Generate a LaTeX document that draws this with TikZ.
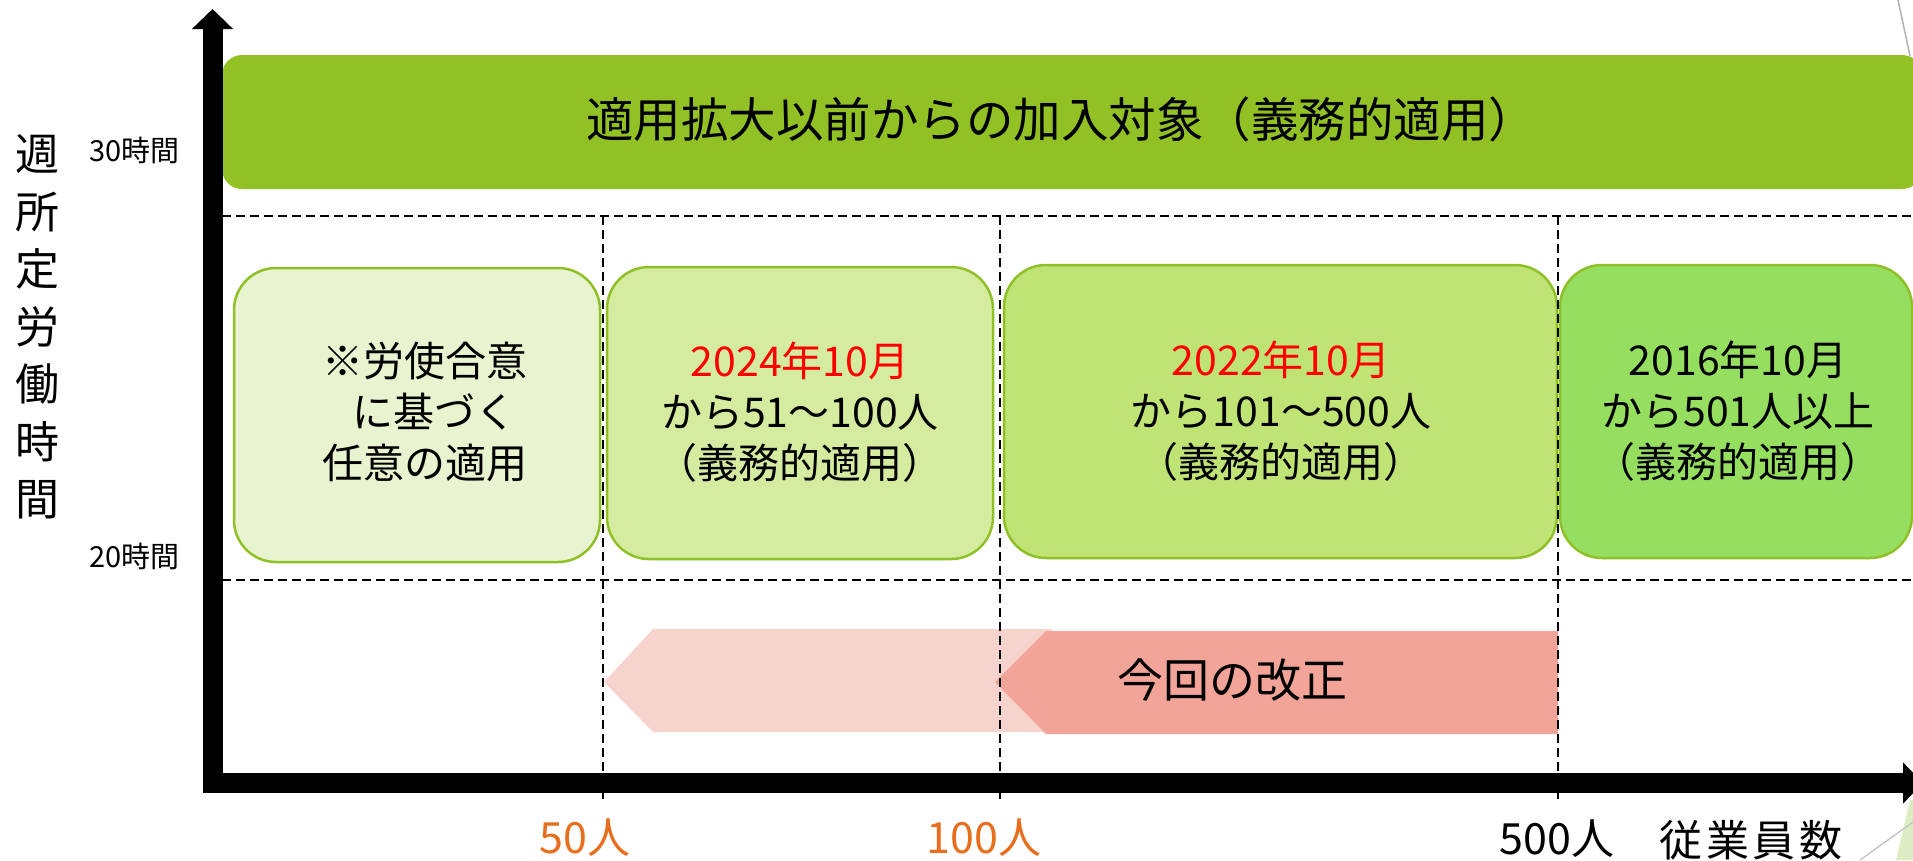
\documentclass[tikz,border=0pt]{standalone}
\usepackage{fontspec}
\setmainfont{Noto Sans CJK JP}
\usetikzlibrary{arrows.meta}
\definecolor{topgreen}{RGB}{146,193,38}
\definecolor{edgegreen}{RGB}{143,192,40}
\definecolor{fillA}{RGB}{232,244,208}
\definecolor{fillB}{RGB}{213,236,160}
\definecolor{fillC}{RGB}{192,227,118}
\definecolor{fillD}{RGB}{150,222,96}
\definecolor{pinkL}{RGB}{246,211,205}
\definecolor{pinkD}{RGB}{242,164,152}
\definecolor{axorange}{RGB}{232,110,30}
\definecolor{decogreen}{RGB}{222,236,196}
\begin{document}
\begin{tikzpicture}[x=1pt,y=-1pt,
  stagebox/.style={draw=edgegreen, line width=2.5pt, rounded corners=42pt, inner sep=0pt},
  boxtxt/.style={align=center, font=\fontsize{41}{51}\selectfont, inner sep=0pt},
  gridline/.style={line width=2.2pt, dash pattern=on 9pt off 5pt},
  axisline/.style={line width=20pt, line join=miter, {Triangle[width=40pt,length=20pt]}-{Triangle[width=40pt,length=20pt]}},
  ticklbl/.style={font=\fontsize{43}{48}\selectfont, inner sep=0pt},
  hourlbl/.style={font=\fontsize{29}{32}\selectfont, inner sep=0pt, anchor=east}
]
\useasboundingbox (0,0) rectangle (1913,860);

% decorations
\fill[decogreen] (1896,860) -- (1910,800) -- (1913,800) -- (1913,860) -- cycle;
\draw[gray!60, line width=1.5pt] (1898,0) -- (1910,56);
\draw[gray!50, line width=1.2pt] (1860,860) -- (1913,822);

% top bar
\node (topbar) [fill=topgreen, rounded corners=20pt, minimum width=1700pt, minimum height=134pt, inner sep=0pt] at (1072,122) {};
\node (toptxt) [font=\fontsize{47.5}{52}\selectfont, inner sep=0pt] at (1061,119) {適用拡大以前からの加入対象（義務的適用）};

% stage boxes
\node (b1) [stagebox, fill=fillA, minimum width=366pt, minimum height=294pt] at (417,415) {};
\node (b2) [stagebox, fill=fillB, minimum width=386pt, minimum height=292pt] at (800,413) {};
\node (b3) [stagebox, fill=fillC, minimum width=553pt, minimum height=293pt] at (1280.5,411.5) {};
\node (b4) [stagebox, fill=fillD, minimum width=352pt, minimum height=293pt] at (1736,411.5) {};

\node (t1) [boxtxt] at (425,412) {※労使合意\\\hspace{0.45em}に基づく\\任意の適用};
\node (t2) [boxtxt] at (800,412) {\textcolor{red}{2024年10月}\\から51～100人\\（義務的適用）};
\node (t3) [boxtxt] at (1281,411) {\textcolor{red}{2022年10月}\\から101～500人\\（義務的適用）};
\node (t4) [boxtxt] at (1738,411) {2016年10月\\から501人以上\\（義務的適用）};

% pink arrows
\fill[pinkL] (604,682) -- (653,629) -- (1051,629) -- (1128,732) -- (653,732) -- cycle;
\fill[pinkD] (995,682) -- (1046,631) -- (1558,631) -- (1558,734) -- (1046,734) -- cycle;
\node (kaisei) [font=\fontsize{46}{52}\selectfont, inner sep=0pt] at (1232,680) {今回の改正};

% grid
\coordinate (h1l) at (222,216); \coordinate (h1r) at (1913,216);
\coordinate (h2l) at (222,580); \coordinate (h2r) at (1913,580);
\coordinate (v1t) at (603,216); \coordinate (v1b) at (603,802);
\coordinate (v2t) at (1000,216); \coordinate (v2b) at (1000,802);
\coordinate (v3t) at (1558,216); \coordinate (v3b) at (1558,803);
\draw[gridline] (h1l) -- (h1r);
\draw[gridline] (h2l) -- (h2r);
\draw[gridline] (v1t) -- (v1b);
\draw[gridline] (v2t) -- (v2b);
\draw[gridline] (v3t) -- (v3b);

% axes
\coordinate (ytop) at (212.5,9);
\coordinate (orig) at (212.5,783);
\coordinate (xend) at (1923,783);
\draw[axisline] (ytop) -- (orig) -- (xend);

% axis labels
\node (vlabel) [align=center, font=\fontsize{44}{57.5}\selectfont, inner sep=0pt] at (38,327) {週\\所\\定\\労\\働\\時\\間};
\node (h30) [hourlbl] at (180,150) {30時間};
\node (h20) [hourlbl] at (180,556) {20時間};
\node (x50) [ticklbl, text=axorange] at (585,838) {50人};
\node (x100) [ticklbl, text=axorange] at (984,838) {100人};
\node (x500) [ticklbl] at (1557,839) {500人};
\node (xname) [ticklbl] at (1751,840) {従\hspace{0.08em}業\hspace{0.08em}員\hspace{0.08em}数};
\end{tikzpicture}
\end{document}
